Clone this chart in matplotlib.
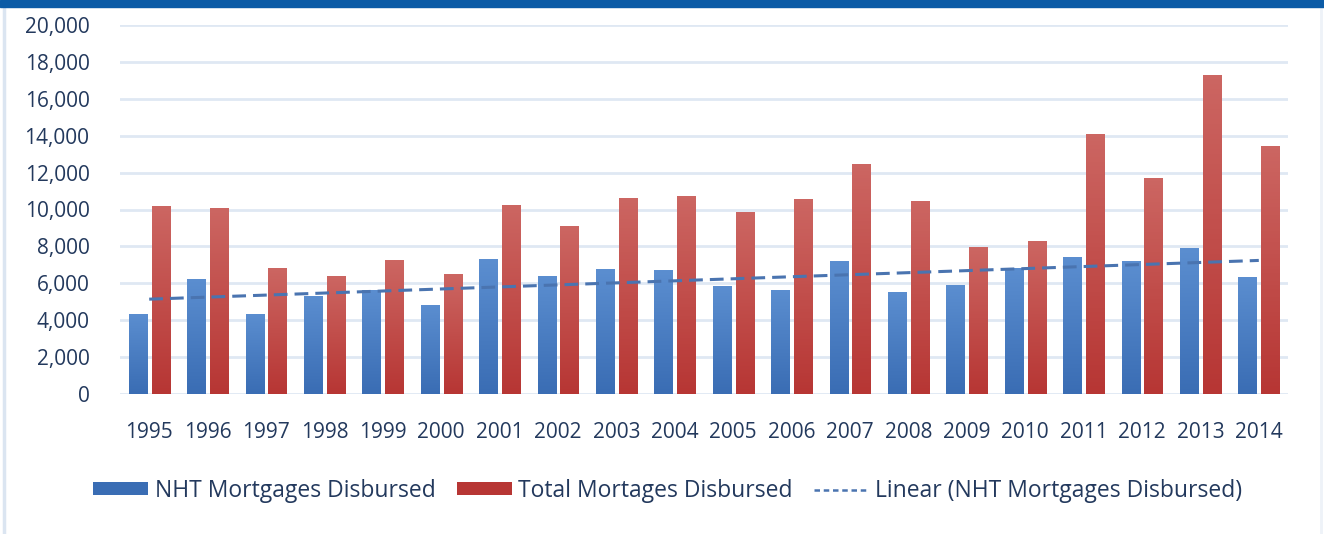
import matplotlib.pyplot as plt
import numpy as np
from matplotlib.patches import Rectangle
from matplotlib.lines import Line2D
from matplotlib.colors import LinearSegmentedColormap

plt.rcParams['font.family'] = ['Open Sans', 'DejaVu Sans']

years = [1995, 1996, 1997, 1998, 1999, 2000, 2001, 2002, 2003, 2004,
         2005, 2006, 2007, 2008, 2009, 2010, 2011, 2012, 2013, 2014]
nht = [4350, 6250, 4350, 5300, 5650, 4850, 7300, 6400, 6750, 6700,
       5850, 5650, 7200, 5550, 5900, 6850, 7450, 7200, 7900, 6350]
total = [10200, 10100, 6850, 6400, 7250, 6500, 10250, 9100, 10650, 10750,
         9850, 10550, 12450, 10450, 7950, 8300, 14100, 11700, 17300, 13450]

text_col = '#23395d'
blue_top, blue_bot = '#5b8ed0', '#3a6db4'
red_top, red_bot = '#cc6662', '#b73634'

fig = plt.figure(figsize=(13.24, 5.34), dpi=100)
fig.patch.set_facecolor('white')

# header band and side rules
fig.add_artist(Rectangle((0, 1 - 7 / 534), 1, 7 / 534, transform=fig.transFigure,
                         color='#0b5ba6', zorder=5))
fig.add_artist(Line2D([4 / 1324, 4 / 1324], [0, 1 - 7 / 534], transform=fig.transFigure,
                      color='#dbe5f1', lw=2.5))
fig.add_artist(Line2D([1321 / 1324, 1321 / 1324], [0, 1 - 7 / 534], transform=fig.transFigure,
                      color='#eef2f8', lw=2))

ax = fig.add_axes([120 / 1324, 1 - 394 / 534, 1168 / 1324, 369 / 534])

x = np.arange(len(years))
w = 0.31
off = 0.195
b1 = ax.bar(x - off, nht, w, color='none', zorder=2)
b2 = ax.bar(x + off, total, w, color='none', zorder=2)

grad = np.linspace(1, 0, 64).reshape(-1, 1)
for bars, top, bot in [(b1, blue_top, blue_bot), (b2, red_top, red_bot)]:
    cmap = LinearSegmentedColormap.from_list('g', [bot, top])
    for p in bars:
        x0, y0 = p.get_x(), p.get_y()
        im = ax.imshow(grad, cmap=cmap, aspect='auto', zorder=2,
                       extent=[x0, x0 + p.get_width(), y0, y0 + p.get_height()])
        im.set_clip_path(p)

# linear trend of NHT disbursements
k, c = np.polyfit(x, nht, 1)
ax.plot(x, k * x + c, ls=(0, (4.5, 2.3)), color='#4a74b0', lw=2.2, zorder=3)

ax.set_xlim(-0.5, len(years) - 0.5)
ax.set_ylim(0, 20000)
ax.set_yticks(np.arange(0, 20001, 2000))
ax.set_yticklabels([f'{v:,}' for v in range(0, 20001, 2000)])
ax.set_xticks(x)
ax.set_xticklabels([str(y) for y in years])
ax.tick_params(length=0, labelsize=15, colors=text_col)
ax.tick_params(axis='x', pad=20)
ax.tick_params(axis='y', pad=22)
ax.grid(axis='y', color='#dfe8f3', lw=2, zorder=0)
ax.set_axisbelow(True)
for s in ax.spines.values():
    s.set_visible(False)

handles = [Rectangle((0, 0), 1, 1, facecolor=blue_bot, edgecolor='none'),
           Rectangle((0, 0), 1, 1, facecolor=red_bot, edgecolor='none'),
           Line2D([0], [0], ls=(0, (2.2, 1.5)), color='#4a74b0', lw=1.8)]
labels = ['NHT Mortgages Disbursed', 'Total Mortages Disbursed',
          'Linear (NHT Mortgages Disbursed)']
leg = fig.legend(handles, labels, loc='center', bbox_to_anchor=(668 / 1324, 1 - 491 / 534),
                 ncol=3, frameon=False, fontsize=16.5, handlelength=2.4, handleheight=0.5,
                 handletextpad=0.3, columnspacing=0.9)
for t in leg.get_texts():
    t.set_color(text_col)

fig.savefig('out.png', dpi=100)
